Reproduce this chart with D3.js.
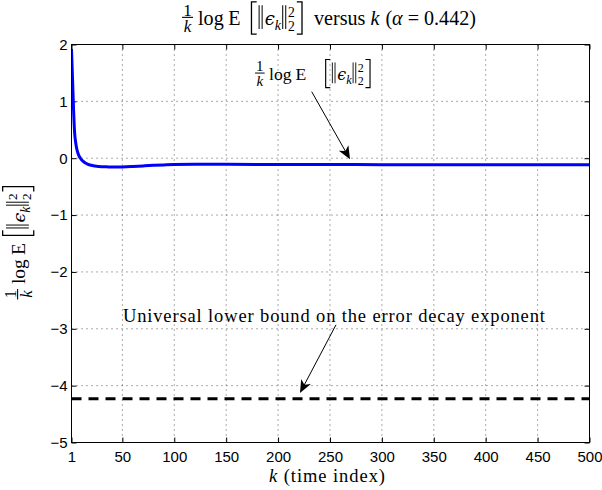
<!DOCTYPE html>
<html>
<head>
<meta charset="utf-8">
<script src="https://cdn.jsdelivr.net/npm/d3@7"></script>
<style>
body { margin: 0; background: #fff; }
text { font-family: "Liberation Serif", "DejaVu Serif", serif; fill: #000; }
.tick text { font-family: "Liberation Sans", Arial, sans-serif; font-size: 15px; }
</style>
</head>
<body>
<svg id="chart" width="602" height="490"></svg>
<script>
// curve: (1/k) log E[||eps_k||^2] against k
var kValues = [1, 2, 3, 4, 5, 6, 7, 8, 10, 12, 14, 16, 18, 20, 25, 30, 35, 40, 45, 50,
               60, 70, 80, 90, 100, 120, 150, 200, 250, 300, 350, 400, 450, 500];
var expValues = [1.92, 1.4, 0.85, 0.45, 0.28, 0.17, 0.1, 0.05, -0.01, -0.05, -0.08, -0.1, -0.115, -0.125, -0.14, -0.148, -0.152, -0.155, -0.155, -0.153,
                 -0.145, -0.135, -0.125, -0.118, -0.112, -0.108, -0.108, -0.11, -0.112, -0.113, -0.114, -0.115, -0.115, -0.116];
var boundValue = -4.23;
var xTicks = [1, 50, 100, 150, 200, 250, 300, 350, 400, 450, 500];
var yTicks = [-5, -4, -3, -2, -1, 0, 1, 2];
var alphaText = '0.442';
var boundText = 'Universal lower bound on the error decay exponent';

var svg = d3.select('#chart');
var x = d3.scaleLinear().domain([1, 500]).range([71.5, 589.5]);
var y = d3.scaleLinear().domain([-5, 2]).range([442.5, 44.5]);

// grid
var grid = svg.append('g')
    .attr('stroke', '#444').attr('stroke-width', 0.9).attr('stroke-dasharray', '1,4');
grid.selectAll('.vg').data(xTicks.slice(1, -1)).join('line')
    .attr('x1', function(d) { return x(d); }).attr('x2', function(d) { return x(d); })
    .attr('y1', y(2)).attr('y2', y(-5));
grid.selectAll('.hg').data(yTicks.slice(1, -1)).join('line')
    .attr('x1', x(1)).attr('x2', x(500))
    .attr('y1', function(d) { return y(d); }).attr('y2', function(d) { return y(d); });

// axes, ticks inside on all four sides
var fmt = d3.format('d');
svg.append('g').attr('transform', 'translate(0,' + y(-5) + ')')
    .call(d3.axisBottom(x).tickValues(xTicks).tickFormat(fmt).tickSizeInner(-5).tickSizeOuter(0).tickPadding(9));
svg.append('g').attr('transform', 'translate(' + x(1) + ',0)')
    .call(d3.axisLeft(y).tickValues(yTicks).tickFormat(fmt).tickSizeInner(-5).tickSizeOuter(0).tickPadding(4));
svg.append('g').attr('transform', 'translate(0,' + y(2) + ')')
    .call(d3.axisTop(x).tickValues(xTicks).tickFormat('').tickSizeInner(-5).tickSizeOuter(0));
svg.append('g').attr('transform', 'translate(' + x(500) + ',0)')
    .call(d3.axisRight(y).tickValues(yTicks).tickFormat('').tickSizeInner(-5).tickSizeOuter(0));
svg.selectAll('.domain').remove();
svg.selectAll('.tick line').attr('stroke', '#000');

svg.append('defs').append('clipPath').attr('id', 'plotclip')
  .append('rect').attr('x', x(1)).attr('y', y(2)).attr('width', x(500) - x(1)).attr('height', y(-5) - y(2));

// bound line
svg.append('line')
    .attr('x1', x(1)).attr('x2', x(500))
    .attr('y1', y(boundValue)).attr('y2', y(boundValue))
    .attr('stroke', '#000').attr('stroke-width', 3).attr('stroke-dasharray', '10,7');

// curve
var line = d3.line()
    .x(function(d, i) { return x(kValues[i]); })
    .y(function(d) { return y(d); })
    .curve(d3.curveMonotoneX);
svg.append('path').datum(expValues)
    .attr('clip-path', 'url(#plotclip)')
    .attr('d', line)
    .attr('fill', 'none').attr('stroke', '#0000ff').attr('stroke-width', 3);

svg.append('rect')
    .attr('x', x(1)).attr('y', y(2)).attr('width', x(500) - x(1)).attr('height', y(-5) - y(2))
    .attr('fill', 'none').attr('stroke', '#000').attr('stroke-width', 1);

// math-ish expression: 1/k log E [ ||eps_k||_2^2 ]  (+ optional "versus k (alpha = ...)")
function drawExpr(parent, s, gapE, suffix) {
  var g = parent.append('g');
  var cx = 0;
  function put(str, o) {
    o = o || {};
    var t = g.append('text')
        .attr('x', cx)
        .attr('y', (o.dy || 0) * s)
        .style('font-size', (o.size || 1) * s + 'px')
        .style('font-style', o.it ? 'italic' : 'normal')
        .text(str);
    if (o.family) t.style('font-family', o.family);
    return { t: t, w: t.node().getComputedTextLength() };
  }
  function rule(d, sw) {
    g.append('path').attr('d', d).attr('fill', 'none')
        .attr('stroke', '#000').attr('stroke-width', sw || 0.065 * s);
  }
  // fraction
  var n = put('1', { dy: -0.47, size: 0.85 });
  var dn = put('k', { dy: 0.34, size: 0.85, it: true });
  var fw = Math.max(n.w, dn.w) + 0.12 * s;
  n.t.attr('x', cx + (fw - n.w) / 2);
  dn.t.attr('x', cx + (fw - dn.w) / 2);
  rule('M' + cx + ',' + (-0.38 * s) + 'H' + (cx + fw), 0.055 * s);
  cx += fw + 0.25 * s;
  cx += put('log').w + 0.22 * s;
  cx += put('E').w + gapE * s;
  // left bracket
  var bt = -1.15 * s, bb = 0.45 * s, bw = 0.26 * s;
  rule('M' + (cx + bw) + ',' + bt + 'H' + cx + 'V' + bb + 'H' + (cx + bw));
  cx += bw + 0.12 * s;
  var nt = -0.98 * s, nb = 0.2 * s;
  function norm() {
    rule('M' + cx + ',' + nt + 'V' + nb + 'M' + (cx + 0.15 * s) + ',' + nt + 'V' + nb, 0.05 * s);
  }
  norm();
  cx += 0.28 * s;
  cx += put('\u03f5', { it: true, size: 0.9, family: '"DejaVu Serif", serif' }).w;
  cx += put('k', { it: true, size: 0.7, dy: 0.25 }).w + 0.08 * s;
  norm();
  cx += 0.26 * s;
  put('2', { size: 0.68, dy: -0.42 });
  cx += put('2', { size: 0.68, dy: 0.3 }).w + 0.1 * s;
  rule('M' + cx + ',' + bt + 'H' + (cx + bw) + 'V' + bb + 'H' + cx);
  cx += bw;
  if (suffix) {
    cx += 0.6 * s;
    cx += put('versus').w + 0.25 * s;
    cx += put('k', { it: true }).w + 0.3 * s;
    cx += put('(').w;
    cx += put('\u03b1', { it: true }).w + 0.25 * s;
    cx += put('=').w + 0.25 * s;
    cx += put(suffix + ')').w;
  }
  g.attr('transform', 'translate(' + (-cx / 2) + ',0)');
  return cx;
}
// draw once, then redraw at the size that gives the wanted width
function fitExpr(transform, width, gapE, suffix) {
  var holder = svg.append('g').attr('transform', transform);
  var w = drawExpr(holder, 16, gapE, suffix);
  holder.selectAll('*').remove();
  drawExpr(holder, 16 * width / w, gapE, suffix);
}

// title
fitExpr('translate(329,25)', 294, 0.55, alphaText);
// y label
fitExpr('translate(25,243) rotate(-90)', 113, 0.4, null);
// x label
var xl = svg.append('text').attr('x', 327).attr('y', 482).attr('text-anchor', 'middle')
    .style('font-size', '18.5px').attr('textLength', 116).attr('lengthAdjust', 'spacing');
xl.append('tspan').style('font-style', 'italic').text('k');
xl.append('tspan').text(' (time index)');

// annotations
function arrow(from, to) {
  var x0 = x(from[0]), y0 = y(from[1]), x1 = x(to[0]), y1 = y(to[1]);
  var ang = Math.atan2(y1 - y0, x1 - x0) * 180 / Math.PI;
  svg.append('line').attr('x1', x0).attr('y1', y0).attr('x2', x1 - (x1 - x0) * 0.03).attr('y2', y1 - (y1 - y0) * 0.03)
      .attr('stroke', '#000').attr('stroke-width', 1);
  svg.append('path').attr('d', 'M0,0L-13,-5.5L-9.5,0L-13,5.5Z')
      .attr('transform', 'translate(' + x1 + ',' + y1 + ') rotate(' + ang + ')')
      .attr('fill', '#000');
}
fitExpr('translate(' + x(233.2) + ',' + y(1.38) + ')', 115, 1.1, null);
arrow([232.4, 1.17], [269.3, -0.02]);

svg.append('text').attr('x', x(253.8)).attr('y', y(-2.88)).attr('text-anchor', 'middle')
    .style('font-size', '18.5px').attr('textLength', 422).attr('lengthAdjust', 'spacing')
    .text(boundText);
arrow([255.8, -2.93], [221.1, -4.13]);
</script>
</body>
</html>
